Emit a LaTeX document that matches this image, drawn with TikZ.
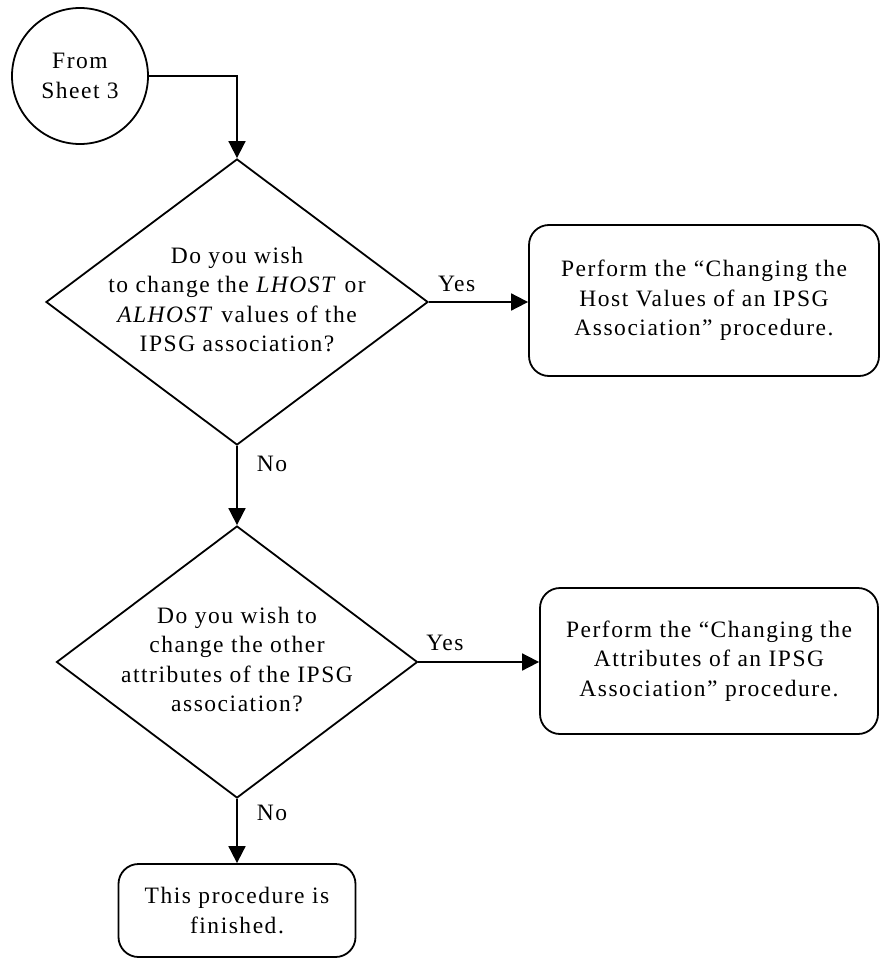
\documentclass[tikz,border=0pt]{standalone}
\usepackage{fontspec}
\setmainfont{Liberation Serif}[LetterSpace=6.5]
\usepackage{tikz}
\usetikzlibrary{arrows.meta,shapes.geometric}

\newcommand{\DiaText}[1]{\smash{\raisebox{-6pt}{\makebox[0pt]{\begin{tabular}{@{}c@{}}#1\end{tabular}}}}}

\begin{document}
\begin{tikzpicture}[x=1pt,y=-1pt,>={Triangle[length=17pt,width=17pt]},line width=1.8pt,
		every node/.style={font=\fontsize{23.5}{29.5}\selectfont},
		ask/.style={diamond,draw,inner sep=0pt},
		task/.style={rectangle,rounded corners=20pt,draw,align=center,inner sep=0pt},
		lbl/.style={inner sep=4pt}]
			\useasboundingbox (0,0) rectangle (880,958);

			\node (start) [circle, draw, minimum size=136pt, align=center, inner sep=0pt] at (80,76) {From\\Sheet 3};

			\node (q1) [ask, minimum width=382pt, minimum height=286pt] at (237,302) {\DiaText{Do you wish\\to change the \textit{LHOST} or\\\textit{ALHOST} values of the\\IPSG association?}};
			\node (a1) [task, minimum width=350pt, minimum height=151pt] at (704,300.5) {Perform the “Changing the\\Host Values of an IPSG\\Association” procedure.};

			\node (q2) [ask, minimum width=361pt, minimum height=272pt] at (237,662) {\DiaText{Do you wish to\\change the other\\attributes of the IPSG\\association?}};
			\node (a2) [task, minimum width=338pt, minimum height=146pt] at (709,661) {Perform the “Changing the\\Attributes of an IPSG\\Association” procedure.};

			\node (done) [task, minimum width=237pt, minimum height=93pt] at (237,910.5) {This procedure is\\finished.};

			\draw [->] (start) -| (q1);
			\draw [->] (q1.east) -- node [lbl, above=5pt, pos=0.28] {Yes} (q1.east -| a1.west);
			\draw [->] (q1) -- node [lbl, right=15pt, pos=0.23] {No} (q2);
			\draw [->] (q2.east) -- node [lbl, above=6pt, pos=0.22] {Yes} (q2.east -| a2.west);
			\draw [->] (q2) -- node [lbl, right=15pt, pos=0.22] {No} (done);
		\end{tikzpicture}
\end{document}
